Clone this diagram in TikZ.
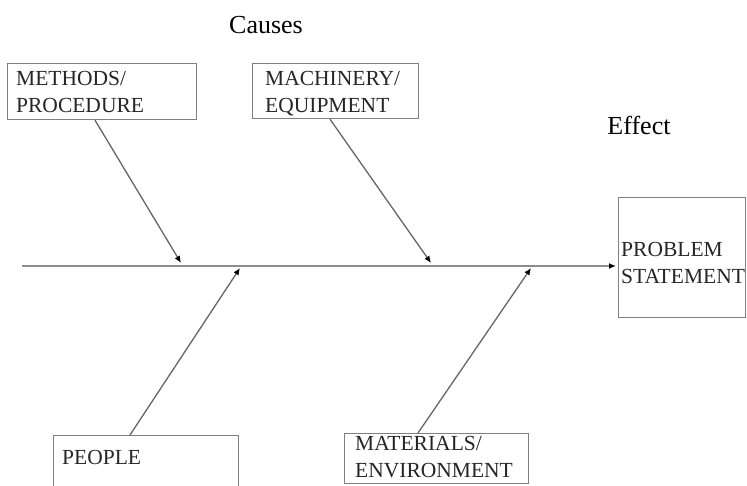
\documentclass[tikz,border=0pt]{standalone}
\usepackage{fontspec}
\setmainfont{Liberation Serif}
\usetikzlibrary{arrows.meta}

\begin{document}
\begin{tikzpicture}[x=1pt, y=-1pt,
    box/.style={rectangle, draw=black!50, line width=1.2pt, inner sep=0pt, anchor=north west},
    boxtext/.style={anchor=north west, inner sep=0pt, align=left, text=black!85, font=\fontsize{21.5}{27}\selectfont},
    bone/.style={draw=black!60, line width=1.3pt, -{Latex[length=7pt, width=6pt, black]}}]
    \clip (0,0) rectangle (747,485);

    % cause boxes and effect box
    \node[box, minimum width=189pt, minimum height=56pt] (methods) at (7,63) {};
    \node[box, minimum width=166pt, minimum height=55pt] (machinery) at (252,63) {};
    \node[box, minimum width=127pt, minimum height=120pt] (problem) at (618,197) {};
    \node[box, minimum width=185pt, minimum height=70pt] (people) at (53,435) {};
    \node[box, minimum width=184pt, minimum height=50pt] (materials) at (344,433) {};

    \node[boxtext] (methodstext) at ([shift={(9,8)}]methods.north west) {METHODS/\\PROCEDURE};
    \node[boxtext] (machinerytext) at ([shift={(13,8)}]machinery.north west) {MACHINERY/\\EQUIPMENT};
    \node[boxtext] (problemtext) at ([shift={(3,45)}]problem.north west) {PROBLEM\\STATEMENT};
    \node[boxtext] (peopletext) at ([shift={(9,15)}]people.north west) {PEOPLE};
    \node[boxtext] (materialstext) at ([shift={(11,3)}]materials.north west) {MATERIALS/\\ENVIRONMENT};

    \node[font=\fontsize{26}{31}\selectfont] (causes) at (266,25) {Causes};
    \node[font=\fontsize{26}{31}\selectfont] (effect) at (639,125) {Effect};

    % spine
    \coordinate (tail) at (22,266);
    \coordinate (head) at (616,266);
    \draw[bone, draw=black!45, line width=2pt] (tail) -- (head);

    % bones
    \coordinate (b1) at (181,263);
    \coordinate (b2) at (431,263);
    \coordinate (b3) at (240,268);
    \coordinate (b4) at (531,268);
    \draw[bone] ([xshift=88pt]methods.south west) -- (b1);
    \draw[bone] ([xshift=78pt]machinery.south west) -- (b2);
    \draw[bone] ([xshift=77pt]people.north west) -- (b3);
    \draw[bone] ([xshift=74pt]materials.north west) -- (b4);
\end{tikzpicture}
\end{document}
